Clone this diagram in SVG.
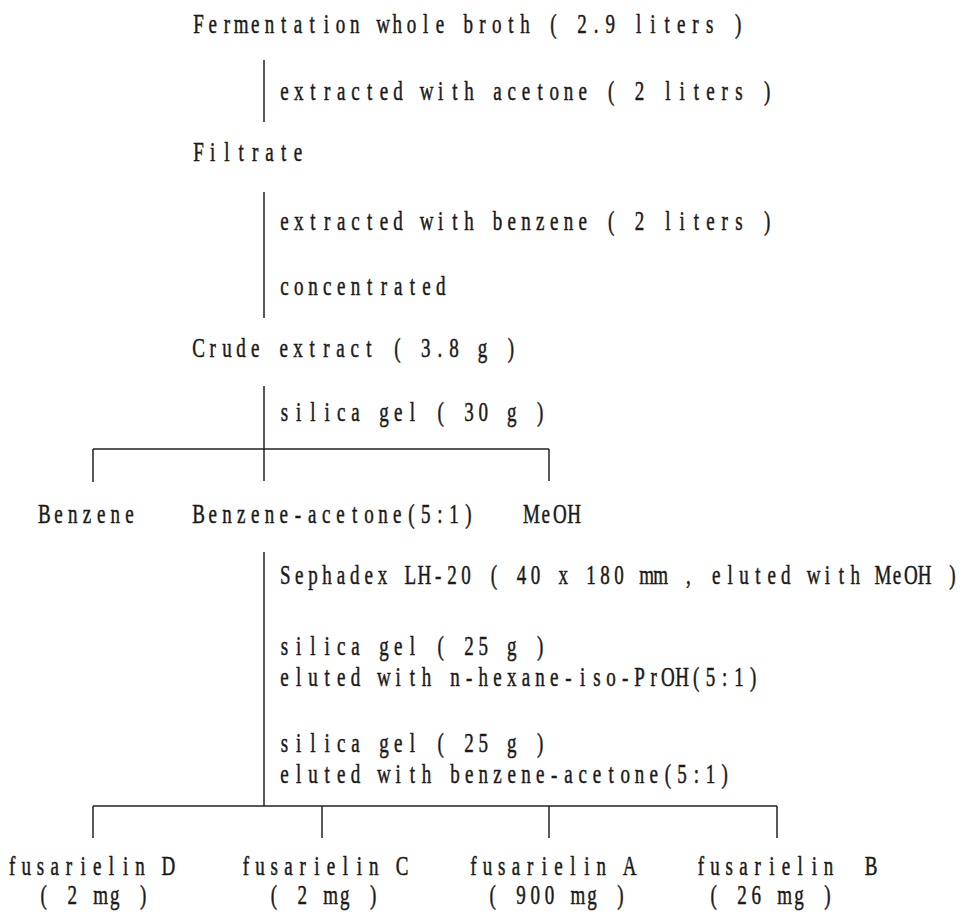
<svg xmlns="http://www.w3.org/2000/svg" width="977" height="914" viewBox="0 0 977 914">
<style>
text{font-family:"Liberation Serif","Times New Roman",serif;font-size:19px;fill:#1a1a1a;stroke:#1a1a1a;stroke-width:0.35;white-space:pre;text-anchor:middle}
.c line{stroke:#222;stroke-width:1.5;fill:none}
</style>
<rect width="977" height="914" fill="#fff"/>
<g class="c" id="connectors">
<line x1="264" y1="60" x2="264" y2="122"/>
<line x1="264" y1="192" x2="264" y2="318"/>
<line x1="264" y1="386" x2="264" y2="481"/>
<line x1="93" y1="449" x2="549" y2="449"/>
<line x1="93" y1="449" x2="93" y2="482"/>
<line x1="549" y1="449" x2="549" y2="481"/>
<line x1="264" y1="552" x2="264" y2="806"/>
<line x1="93" y1="806" x2="777" y2="806"/>
<line x1="93" y1="806" x2="93" y2="838"/>
<line x1="322" y1="806" x2="322" y2="838"/>
<line x1="549" y1="806" x2="549" y2="838"/>
<line x1="777" y1="806" x2="777" y2="838"/>
</g>
<g transform="scale(1,1.4)">
<g id="n-broth"><text y="23.57" x="198.5 212.7 226.9 241.1 255.3 269.5 283.7 297.9 312.1 326.3 340.5 354.7 368.9 383.1 397.3 411.5 425.7 439.9 454.1 468.3 482.5 496.7 510.9 525.1 539.3 553.5 567.7 581.9 596.1 610.3 624.5 638.7 652.9 667.1 681.3 695.5 709.7 723.9 738.1">Fermentation whole broth ( 2.9 liters )</text></g>
<g id="s-acetone"><text y="71.43" x="284.5 298.7 312.9 327.1 341.3 355.5 369.7 383.9 398.1 412.3 426.5 440.7 454.9 469.1 483.3 497.5 511.7 525.9 540.1 554.3 568.5 582.7 596.9 611.1 625.3 639.5 653.7 667.9 682.1 696.3 710.5 724.7 738.9 753.1 767.3">extracted with acetone ( 2 liters )</text></g>
<g id="n-filtrate"><text y="115" x="198.5 212.7 226.9 241.1 255.3 269.5 283.7 297.9">Filtrate</text></g>
<g id="s-benzene"><text y="164.29" x="284.5 298.7 312.9 327.1 341.3 355.5 369.7 383.9 398.1 412.3 426.5 440.7 454.9 469.1 483.3 497.5 511.7 525.9 540.1 554.3 568.5 582.7 596.9 611.1 625.3 639.5 653.7 667.9 682.1 696.3 710.5 724.7 738.9 753.1 767.3">extracted with benzene ( 2 liters )</text></g>
<g id="s-conc"><text y="210.71" x="284.5 298.7 312.9 327.1 341.3 355.5 369.7 383.9 398.1 412.3 426.5 440.7">concentrated</text></g>
<g id="n-crude"><text y="255" x="198.5 212.7 226.9 241.1 255.3 269.5 283.7 297.9 312.1 326.3 340.5 354.7 368.9 383.1 397.3 411.5 425.7 439.9 454.1 468.3 482.5 496.7 510.9">Crude extract ( 3.8 g )</text></g>
<g id="s-silica30"><text y="300.71" x="284.5 298.7 312.9 327.1 341.3 355.5 369.7 383.9 398.1 412.3 426.5 440.7 454.9 469.1 483.3 497.5 511.7 525.9 540.1">silica gel ( 30 g )</text></g>
<g id="n-benzene"><text y="373.57" x="44.3 58.5 72.7 86.9 101.1 115.3 129.5">Benzene</text></g>
<g id="n-benzac"><text y="373.57" x="198.5 212.7 226.9 241.1 255.3 269.5 283.7 297.9 312.1 326.3 340.5 354.7 368.9 383.1 397.3 411.5 425.7 439.9 454.1 468.3">Benzene-acetone(5:1)</text></g>
<g id="n-meoh"><text y="373.57" x="531.5 545.7 559.9 574.1">MeOH</text></g>
<g id="s-steps">
<text y="417.14" x="285.3 299.2 313.1 327 340.9 354.8 368.7 382.6 396.5 410.4 424.3 438.2 452.1 466 479.9 493.8 507.7 521.6 535.5 549.4 563.3 577.2 591.1 605 618.9 632.8 646.7 660.6 674.5 688.4 702.3 716.2 730.1 744 757.9 771.8 785.7 799.6 813.5 827.4 841.3 855.2 869.1 883 896.9 910.8 924.7 938.6 952.5 966.4">Sephadex LH-20 ( 40 x 180 mm , eluted with MeOH )</text>
<text y="467.86" x="284.5 298.7 312.9 327.1 341.3 355.5 369.7 383.9 398.1 412.3 426.5 440.7 454.9 469.1 483.3 497.5 511.7 525.9 540.1">silica gel ( 25 g )</text>
<text y="490" x="284.5 298.7 312.9 327.1 341.3 355.5 369.7 383.9 398.1 412.3 426.5 440.7 454.9 469.1 483.3 497.5 511.7 525.9 540.1 554.3 568.5 582.7 596.9 611.1 625.3 639.5 653.7 667.9 682.1 696.3 710.5 724.7 738.9 753.1">eluted with n-hexane-iso-PrOH(5:1)</text>
<text y="537.14" x="284.5 298.7 312.9 327.1 341.3 355.5 369.7 383.9 398.1 412.3 426.5 440.7 454.9 469.1 483.3 497.5 511.7 525.9 540.1">silica gel ( 25 g )</text>
<text y="559.29" x="284.5 298.7 312.9 327.1 341.3 355.5 369.7 383.9 398.1 412.3 426.5 440.7 454.9 469.1 483.3 497.5 511.7 525.9 540.1 554.3 568.5 582.7 596.9 611.1 625.3 639.5 653.7 667.9 682.1 696.3 710.5 724.7">eluted with benzene-acetone(5:1)</text>
</g>
<g id="n-fusD"><text y="625" x="12.1 26.3 40.5 54.7 68.9 83.1 97.3 111.5 125.7 139.9 154.1 168.3">fusarielin D</text><text y="645.71" x="43.8 58 72.2 86.4 100.6 114.8 129 143.2">( 2 mg )</text></g>
<g id="n-fusC"><text y="625" x="245.9 260.1 274.3 288.5 302.7 316.9 331.1 345.3 359.5 373.7 387.9 402.1">fusarielin C</text><text y="645.71" x="273.8 288 302.2 316.4 330.6 344.8 359 373.2">( 2 mg )</text></g>
<g id="n-fusA"><text y="625" x="473.4 487.6 501.8 516 530.2 544.4 558.6 572.8 587 601.2 615.4 629.6">fusarielin A</text><text y="645.71" x="492.6 506.8 521 535.2 549.4 563.6 577.8 592 606.2 620.4">( 900 mg )</text></g>
<g id="n-fusB"><text y="625" x="700.8 715 729.2 743.4 757.6 771.8 786 800.2 814.4 828.6 842.8 857 871.2">fusarielin  B</text><text y="645.71" x="713.7 727.9 742.1 756.3 770.5 784.7 798.9 813.1 827.3">( 26 mg )</text></g>
</g>
</svg>
